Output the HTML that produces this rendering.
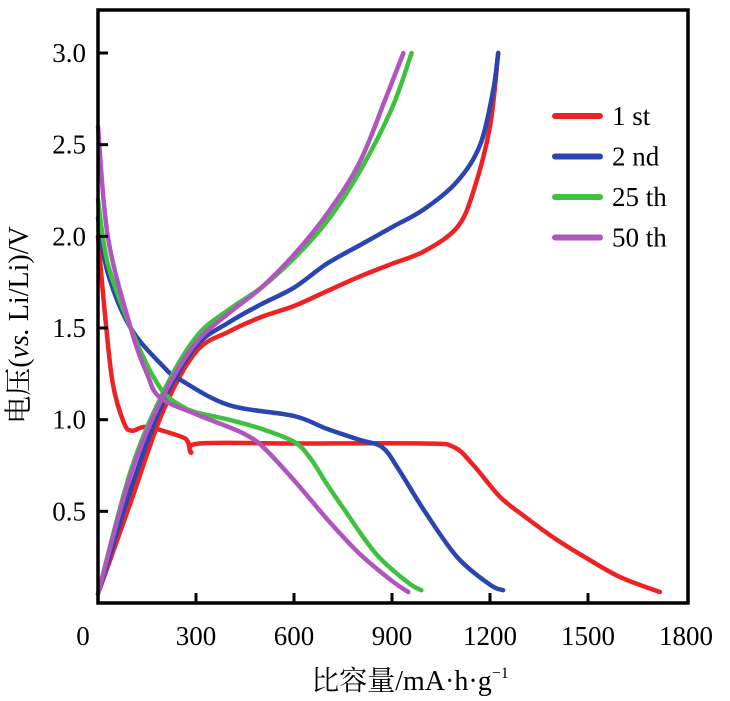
<!DOCTYPE html>
<html><head><meta charset="utf-8"><style>
body{margin:0;background:#fff;}
svg{display:block;font-family:"Liberation Serif","Noto Serif CJK SC",serif;}
</style></head><body>
<svg id="chart" width="730" height="701"></svg>
<script>
const xTicks=[0,300,600,900,1200,1500,1800];
const yTicks=[0.5,1.0,1.5,2.0,2.5,3.0];
const seriesNames=["1 st","2 nd","25 th","50 th"];
const seriesColors=["#ee2222","#2a44b0","#3ec23e","#b055c0"];
const chargeX=[[0,100,200,300,400,500,600,700,800,900,1000,1100,1150,1200,1225],
[0,100,200,300,400,500,600,700,800,900,1000,1100,1170,1210,1225],
[0,100,200,300,400,500,600,700,800,900,960],
[0,100,200,300,400,500,600,700,800,880,935]];
const chargeY=[[0.05,0.55,1.05,1.37,1.48,1.56,1.62,1.7,1.78,1.85,1.92,2.05,2.25,2.6,3.0],
[0.05,0.62,1.1,1.4,1.53,1.63,1.72,1.85,1.95,2.05,2.15,2.3,2.5,2.8,3.0],
[0.05,0.72,1.15,1.45,1.6,1.72,1.88,2.08,2.35,2.7,3.0],
[0.05,0.7,1.13,1.42,1.58,1.72,1.9,2.12,2.4,2.75,3.0]];
const dischargeX=[[0,20,45,80,105,150,250,275,285,310,600,1000,1090,1150,1230,1300,1400,1500,1600,1720],
[0,30,100,200,250,400,600,700,800,870,920,1000,1100,1200,1240],
[0,30,100,150,200,250,300,400,500,600,650,700,750,850,950,990],
[0,30,100,150,190,300,400,450,500,600,700,800,900,950]];
const dischargeY=[[2.0,1.6,1.2,0.98,0.94,0.96,0.91,0.88,0.82,0.87,0.87,0.87,0.85,0.75,0.58,0.48,0.35,0.24,0.14,0.06],
[2.1,1.8,1.5,1.29,1.22,1.08,1.02,0.95,0.89,0.85,0.73,0.5,0.25,0.1,0.07],
[2.2,1.85,1.5,1.3,1.15,1.08,1.04,1.0,0.95,0.88,0.79,0.65,0.52,0.27,0.11,0.07],
[2.6,2.0,1.5,1.25,1.12,1.03,0.96,0.92,0.86,0.67,0.46,0.27,0.12,0.06]];

const NS="http://www.w3.org/2000/svg";
const svg=document.getElementById('chart');
const L=98,R=688,T=10,B=603;
const sx=v=>L+v*(R-L)/1800*0.9966;
const sy=v=>B-v*(B-53)/3.0;
function mk(tag,attrs,parent){const e=document.createElementNS(NS,tag);for(const k in attrs)e.setAttribute(k,attrs[k]);(parent||svg).appendChild(e);return e;}
function smooth(xs,ys){
 const p=xs.map((x,i)=>[sx(x),sy(ys[i])]);
 let d='M'+p[0][0].toFixed(1)+','+p[0][1].toFixed(1);
 for(let i=0;i<p.length-1;i++){
  const p0=p[Math.max(0,i-1)],p1=p[i],p2=p[i+1],p3=p[Math.min(p.length-1,i+2)];
  const c1=[p1[0]+(p2[0]-p0[0])/6,p1[1]+(p2[1]-p0[1])/6];
  const c2=[p2[0]-(p3[0]-p1[0])/6,p2[1]-(p3[1]-p1[1])/6];
  d+=' C'+c1.map(v=>v.toFixed(1))+' '+c2.map(v=>v.toFixed(1))+' '+p2.map(v=>v.toFixed(1));
 }
 return d;
}

for(let s=0;s<4;s++){
 const c=mk('path',{d:smooth(chargeX[s],chargeY[s]),fill:'none',stroke:seriesColors[s],'stroke-width':4.5,'stroke-linejoin':'round','stroke-linecap':'round'});
 
 
 const d=mk('path',{d:smooth(dischargeX[s],dischargeY[s]),fill:'none',stroke:seriesColors[s],'stroke-width':4.5,'stroke-linejoin':'round','stroke-linecap':'round'});
 
 
}
const frame=mk('rect',{x:L,y:T,width:R-L,height:B-T,fill:'none',stroke:'#000','stroke-width':3.5});


xTicks.forEach(v=>{
 const x=sx(v);
 if(v>0&&v<1800){const t=mk('line',{x1:x,x2:x,y1:B,y2:B-10,stroke:'#000','stroke-width':3});
 
 }
 const lb=mk('text',{x:v===0?83:x,y:645,'font-size':27,'text-anchor':'middle'});lb.textContent=v;
 
 
});
yTicks.forEach(v=>{
 const y=sy(v);
 const t=mk('line',{x1:L,x2:L+10,y1:y,y2:y,stroke:'#000','stroke-width':3});
 
 
 const lb=mk('text',{x:86,y:y+9,'font-size':27,'text-anchor':'end'});lb.textContent=v.toFixed(1);
 
 
});
const xt=mk('text',{x:410,y:690,'font-size':28,'text-anchor':'middle'});
xt.innerHTML='比容量/mA·h·g<tspan font-size="16" dy="-12">−1</tspan>';


const yt=mk('text',{x:0,y:0,'font-size':28,'text-anchor':'middle',transform:'translate(28,325) rotate(-90)'});
yt.innerHTML='电压(<tspan font-style="italic">vs.</tspan> Li/Li)/V';


seriesNames.forEach((n,i)=>{
 const y=116+i*40.5;
 const g=mk('g',{});
 
 
 mk('line',{x1:555,x2:600,y1:y,y2:y,stroke:seriesColors[i],'stroke-width':6,'stroke-linecap':'round'},g);
 const t=mk('text',{x:612,y:y+9,'font-size':27},g);t.textContent=n;
});
</script>
</body></html>
